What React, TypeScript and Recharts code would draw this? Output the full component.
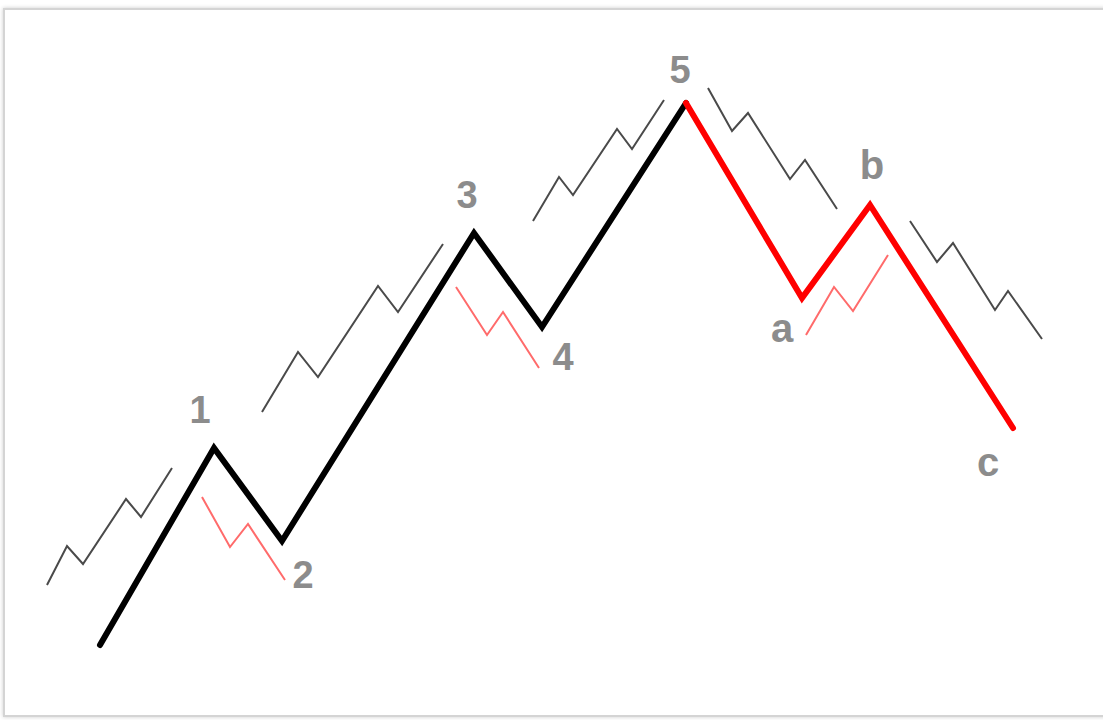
import React from "react";
import { LineChart, Line, XAxis, YAxis, LabelList } from "recharts";

type P = { x: number; y: number };
const pts = (a: number[][]): P[] => a.map(([x, y]) => ({ x, y }));

// Main impulse wave (0-1-2-3-4-5)
const impulse = pts([[100, 75], [214, 272], [282, 179], [474, 487], [542, 393], [686, 617]]);
const impulseLabels = ["", "1", "2", "3", "4", "5"];
// Main corrective wave (5-a-b-c)
const corrective = pts([[686, 617], [802, 422], [870, 515], [1013, 292]]);
const correctiveLabels = ["", "a", "b", "c"];

// Sub-waves
const sub1 = pts([[47, 135], [67, 174], [83, 156], [126, 221], [141, 203], [172, 252]]);
const sub2 = pts([[202, 223], [230, 173], [248, 196], [285, 140]]);
const sub3 = pts([[262, 308], [298, 368], [318, 343], [378, 434], [398, 408], [443, 476]]);
const sub4 = pts([[456, 433], [487, 385], [503, 408], [539, 352]]);
const sub5 = pts([[533, 499], [559, 543], [573, 525], [617, 591], [632, 571], [664, 620]]);
const subA = pts([[708, 632], [732, 589], [748, 607], [790, 541], [805, 560], [837, 511]]);
const subB = pts([[806, 385], [834, 433], [853, 409], [888, 465]]);
const subC = pts([[910, 499], [937, 458], [953, 477], [995, 410], [1008, 429], [1042, 381]]);

const grayWaves = [sub1, sub3, sub5, subA, subC];
const pinkWaves = [sub2, sub4, subB];

// label offsets (direction of the label relative to the vertex)
const impulseOffsets = [[0, 0], [-14, -38], [21, 34], [-7, -38], [21, 30], [-6, -33]];
const correctiveOffsets = [[0, 0], [-20, 30], [2, -40], [-25, 34]];

const makeLabel = (texts: string[], offs: number[][], fontSize: number) => (props: any) => {
  const { x, y, index } = props;
  const t = texts[index];
  if (!t) return null;
  const [dx, dy] = offs[index];
  return (
    <text
      x={x + dx}
      y={y + dy}
      textAnchor="middle"
      dominantBaseline="central"
      fontFamily="Liberation Sans, Arial, sans-serif"
      fontWeight="bold"
      fontSize={fontSize}
      fill="#8c8c8c"
    >
      {t}
    </text>
  );
};

export default function App() {
  return (
    <div style={{ position: "absolute", left: 0, top: 0, width: 1103, height: 720, overflow: "hidden", background: "#fff" }}>
      <div
        style={{
          position: "absolute",
          left: 3,
          top: 8,
          width: 1200,
          height: 705,
          border: "2px solid #d4d4d4",
          boxShadow: "0 0 4px rgba(0,0,0,0.2)",
          background: "#fff",
        }}
      />
      <div style={{ position: "absolute", left: 0, top: 0 }}>
        <LineChart width={1103} height={720} margin={{ top: 0, right: 0, bottom: 0, left: 0 }}>
          <XAxis type="number" dataKey="x" domain={[0, 1103]} hide allowDataOverflow />
          <YAxis type="number" dataKey="y" domain={[0, 720]} hide allowDataOverflow />
          {grayWaves.map((d, i) => (
            <Line
              key={"g" + i}
              data={d}
              dataKey="y"
              stroke="#4a4a4a"
              strokeWidth={2}
              dot={false}
              activeDot={false}
              isAnimationActive={false}
            />
          ))}
          {pinkWaves.map((d, i) => (
            <Line
              key={"p" + i}
              data={d}
              dataKey="y"
              stroke="#ff6b6b"
              strokeWidth={2}
              dot={false}
              activeDot={false}
              isAnimationActive={false}
            />
          ))}
          <Line
            data={impulse}
            dataKey="y"
            stroke="#000"
            strokeWidth={6}
            dot={false}
            activeDot={false}
            isAnimationActive={false}
            strokeLinecap="round"
          >
            <LabelList dataKey="y" content={makeLabel(impulseLabels, impulseOffsets, 38)} />
          </Line>
          <Line
            data={corrective}
            dataKey="y"
            stroke="#ff0000"
            strokeWidth={6}
            dot={false}
            activeDot={false}
            isAnimationActive={false}
            strokeLinecap="round"
          >
            <LabelList dataKey="y" content={makeLabel(correctiveLabels, correctiveOffsets, 40)} />
          </Line>
        </LineChart>
      </div>
    </div>
  );
}
